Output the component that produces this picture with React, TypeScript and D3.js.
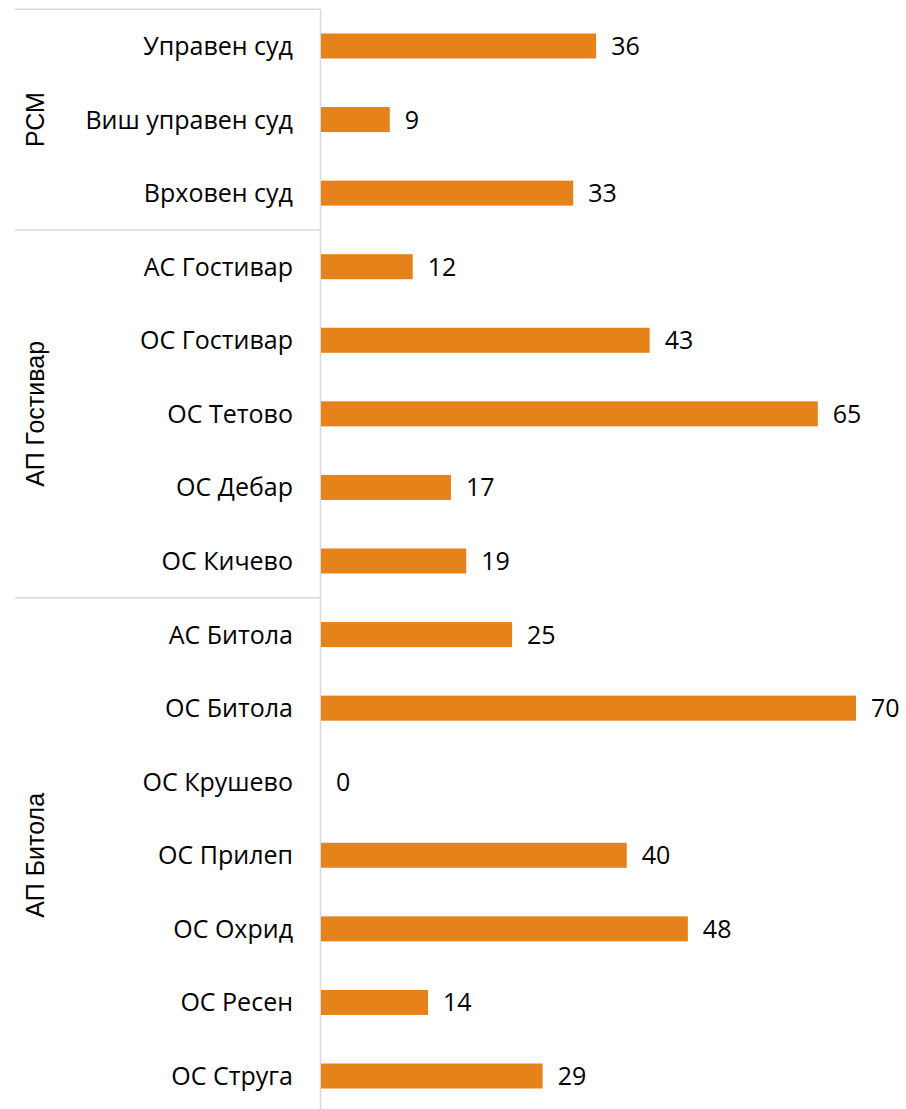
import React from "react";
import * as d3 from "d3";

const categories = [
  "Управен суд", "Виш управен суд", "Врховен суд",
  "АС Гостивар", "ОС Гостивар", "ОС Тетово", "ОС Дебар", "ОС Кичево",
  "АС Битола", "ОС Битола", "ОС Крушево", "ОС Прилеп", "ОС Охрид", "ОС Ресен", "ОС Струга",
];
const values = [36, 9, 33, 12, 43, 65, 17, 19, 25, 70, 0, 40, 48, 14, 29];
const groups = ["РСМ", "АП Гостивар", "АП Битола"];
const groupSizes = [3, 5, 7];

const W = 906, H = 1109;
const axisX = 320.5;
const top = 9.2, bottom = 1112.8;

export default function App() {
  const y = d3.scaleBand<string>().domain(categories).range([top, bottom]).paddingInner(0.66).paddingOuter(0.33);
  const x = d3.scaleLinear().domain([0, 70]).range([321, 856]);
  const step = y.step();
  let acc = 0;
  const groupInfo = groups.map((g, i) => {
    const s = top + acc * step;
    acc += groupSizes[i];
    const e = top + acc * step;
    return { g, s, e };
  });
  const font = "'Open Sans', sans-serif";
  const fs = 25;
  return (
    <svg width={W} height={H} style={{ position: "absolute", left: 0, top: 0, background: "#fff" }}>
      <line x1={15} x2={axisX} y1={top} y2={top} stroke="#d9d9d9" strokeWidth={1.5} />
      {groupInfo.slice(0, -1).map((d) => (
        <line key={d.g} x1={15} x2={axisX} y1={d.e} y2={d.e} stroke="#d9d9d9" strokeWidth={1.5} />
      ))}
      <line x1={axisX} x2={axisX} y1={top} y2={H} stroke="#d9d9d9" strokeWidth={1.5} />
      {categories.map((c, i) => (
        <g key={c}>
          <rect x={x(0)} y={y(c)!} width={x(values[i]) - x(0)} height={y.bandwidth()} fill="#E6821A" />
          <text x={x(values[i]) + 15} y={y(c)! + y.bandwidth() / 2} dy="0.36em" fontFamily={font} fontSize={fs} fill="#000">
            {values[i]}
          </text>
          <text x={293} y={y(c)! + y.bandwidth() / 2} dy="0.36em" textAnchor="end" fontFamily={font} fontSize={fs} fill="#000">
            {c}
          </text>
        </g>
      ))}
      {groupInfo.map((d) => (
        <text key={d.g} transform={`translate(44,${(d.s + d.e) / 2}) rotate(-90)`} textAnchor="middle" fontFamily="'Liberation Sans', Arial, sans-serif" fontSize={25} fill="#000">
          {d.g}
        </text>
      ))}
    </svg>
  );
}
